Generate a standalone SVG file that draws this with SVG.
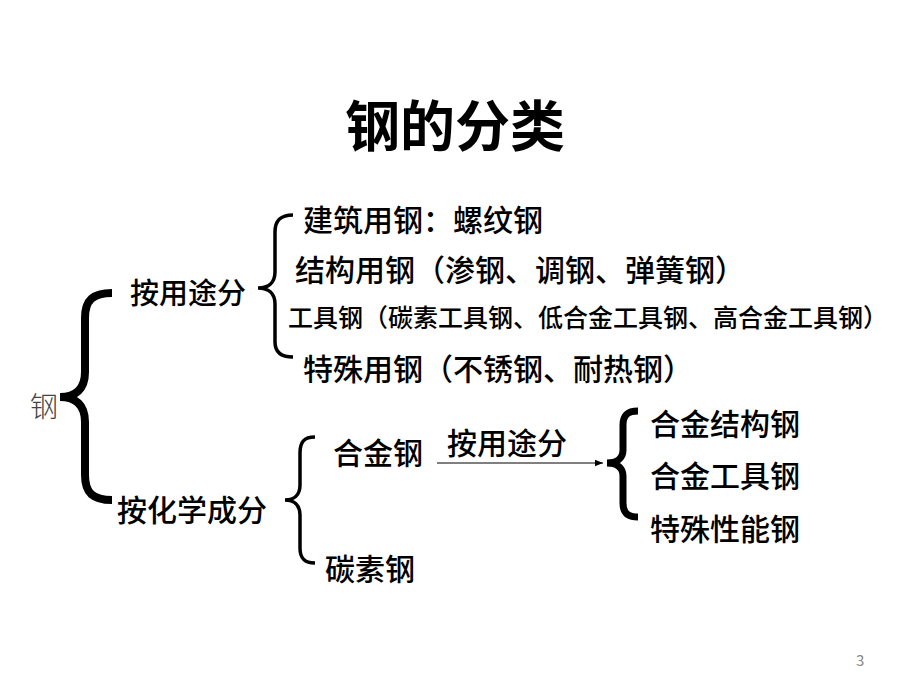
<svg xmlns="http://www.w3.org/2000/svg" width="920" height="690" viewBox="0 0 920 690">
<defs>
<style>
text{font-family:"Noto Sans CJK SC","Noto Sans",sans-serif;fill:#000}
.t{font-size:30px;font-weight:500}
.s{font-size:25px;font-weight:500}
.title{font-size:55px;font-weight:bold}
.brace{fill:none;stroke:#000;stroke-linecap:butt}
.conn{fill:none;stroke:#000;stroke-width:1}
</style>
<marker id="ah" viewBox="0 0 10 10" refX="10" refY="5" markerWidth="8" markerHeight="8" markerUnits="userSpaceOnUse" orient="auto">
<path d="M0,1 L10,5 L0,9 Z" fill="#000"/>
</marker>
</defs>
<rect width="920" height="690" fill="#fff"/>
<g id="title"><text class="title" x="455" y="146" text-anchor="middle">钢的分类</text></g>
<g id="steel"><text x="30" y="417" style="font-size:28px;fill:#444;font-weight:300">钢</text></g>
<g id="connectors">
<path class="brace" stroke-width="8" d="M112,293 C93,293 85,300 85,318 L85,372 C85,389 76,397 60,397 C76,397 85,405 85,422 L85,475 C85,493 93,500 112,500"/>
<path class="brace" stroke-width="3.5" d="M293,215 C281,215 275,220 275,232 L275,272 C275,283 268,288 258,288 C268,288 275,293 275,304 L275,342 C275,352 281,357 293,357"/>
<path class="brace" stroke-width="3.5" d="M315,437 C304,437 300,442 300,453 L300,485 C300,495 294,500 285,500 C294,500 300,505 300,515 L300,548 C300,558 304,563 315,563"/>
<path class="brace" stroke-width="7" d="M638,411 C628,411 623,415 623,425 L623,450 C623,458 617,463 607,463 C617,463 623,468 623,476 L623,503 C623,513 628,517 638,517"/>
<line class="conn" x1="437" y1="463" x2="603" y2="463" marker-end="url(#ah)"/>
</g>
<g id="by-use"><text class="t" x="130" y="304" style="font-size:29px">按用途分</text></g>
<g id="by-chem"><text class="t" x="117" y="521">按化学成分</text></g>
<g id="construction"><text class="t" x="303" y="231">建筑用钢：螺纹钢</text></g>
<g id="structural"><text class="t" x="295" y="281">结构用钢（渗钢、调钢、弹簧钢）</text></g>
<g id="tool"><text class="s" x="288" y="327">工具钢（碳素工具钢、低合金工具钢、高合金工具钢）</text></g>
<g id="special"><text class="t" x="303" y="380">特殊用钢（不锈钢、耐热钢）</text></g>
<g id="alloy"><text class="t" x="333" y="464">合金钢</text></g>
<g id="carbon"><text class="t" x="325" y="580">碳素钢</text></g>
<g id="arrow-label"><text class="t" x="447" y="454">按用途分</text></g>
<g id="alloy-struct"><text class="t" x="650" y="435">合金结构钢</text></g>
<g id="alloy-tool"><text class="t" x="650" y="487">合金工具钢</text></g>
<g id="special-perf"><text class="t" x="650" y="540">特殊性能钢</text></g>
<g id="page"><text x="856" y="666" style="font-size:15px;fill:#888">3</text></g>
</svg>
